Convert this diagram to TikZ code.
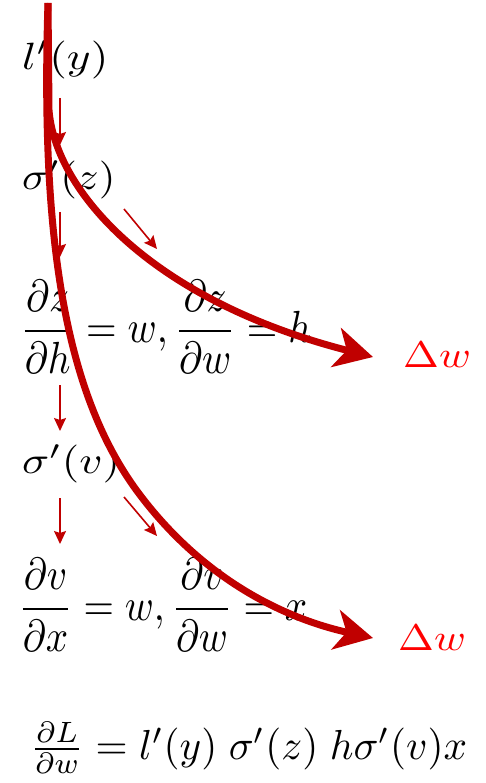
\documentclass[tikz,border=0pt]{standalone}
\usepackage{amsmath}
\usepackage{graphicx}
\usetikzlibrary{arrows.meta}
\definecolor{dred}{HTML}{C00000}
\definecolor{bred}{HTML}{FF0000}
\begin{document}
\begin{tikzpicture}[x=1pt,y=-1pt,
  lbl/.style={anchor=west,inner sep=0pt},
  small/.style={draw=dred,line width=1.6pt,-{Stealth[length=13pt,width=12pt,inset=2pt]}},
  big/.style={draw=dred,line width=7pt,-{Stealth[length=38pt,width=40pt,inset=11pt]}}]
\useasboundingbox (0,0) rectangle (485,783);
\node[lbl] (ly) at (22,60) {\scalebox{4.53}[3.8]{$l'(y)$}};
\node[lbl] (sz) at (22,180) {\scalebox{4.29}[3.8]{$\sigma'(z)$}};
\node[lbl] (dz) at (20,327) {\scalebox{3.93}[4.5]{$\dfrac{\partial z}{\partial h}=w,\dfrac{\partial z}{\partial w}=h$}};
\node[lbl,text=bred] (dw1) at (403,355) {\scalebox{4.3}[3.7]{$\Delta w$}};
\node[lbl] (sv) at (22,464) {\scalebox{4.48}[3.8]{$\sigma'(v)$}};
\node[lbl] (dv) at (18,605) {\scalebox{3.91}[4.5]{$\dfrac{\partial v}{\partial x}=w,\dfrac{\partial v}{\partial w}=x$}};
\node[lbl,text=bred] (dw2) at (398,638) {\scalebox{4.3}[3.7]{$\Delta w$}};
\node[lbl] (dL) at (30,748) {\scalebox{4.12}[4.2]{$\tfrac{\partial L}{\partial w}=l'(y)\;\sigma'(z)\;h\sigma'(v)x$}};
% small arrows
\coordinate (a1s) at (60,98);  \coordinate (a1e) at (60,145);
\coordinate (a2s) at (60,212); \coordinate (a2e) at (60,257);
\coordinate (a3s) at (124,209); \coordinate (a3e) at (157,249);
\coordinate (a4s) at (60,385); \coordinate (a4e) at (60,431);
\coordinate (a5s) at (124,497); \coordinate (a5e) at (157,536);
\coordinate (a6s) at (60,498); \coordinate (a6e) at (60,544);
\draw[small] (a1s) -- (a1e);
\draw[small] (a2s) -- (a2e);
\draw[small] (a3s) -- (a3e);
\draw[small] (a4s) -- (a4e);
\draw[small] (a5s) -- (a5e);
\draw[small] (a6s) -- (a6e);
% big curves
\coordinate (top) at (48,3);
\coordinate (split) at (49,110);
\coordinate (mid) at (140,495);
\coordinate (tip1) at (373,357);
\coordinate (tip2) at (373,638);
\draw[big] (top) -- (split) .. controls (55,190) and (150,300) .. (tip1);
\draw[big] (top) .. controls (40,250) and (68,400) .. (mid) .. controls (212,590) and (300,622) .. (tip2);
\end{tikzpicture}
\end{document}
